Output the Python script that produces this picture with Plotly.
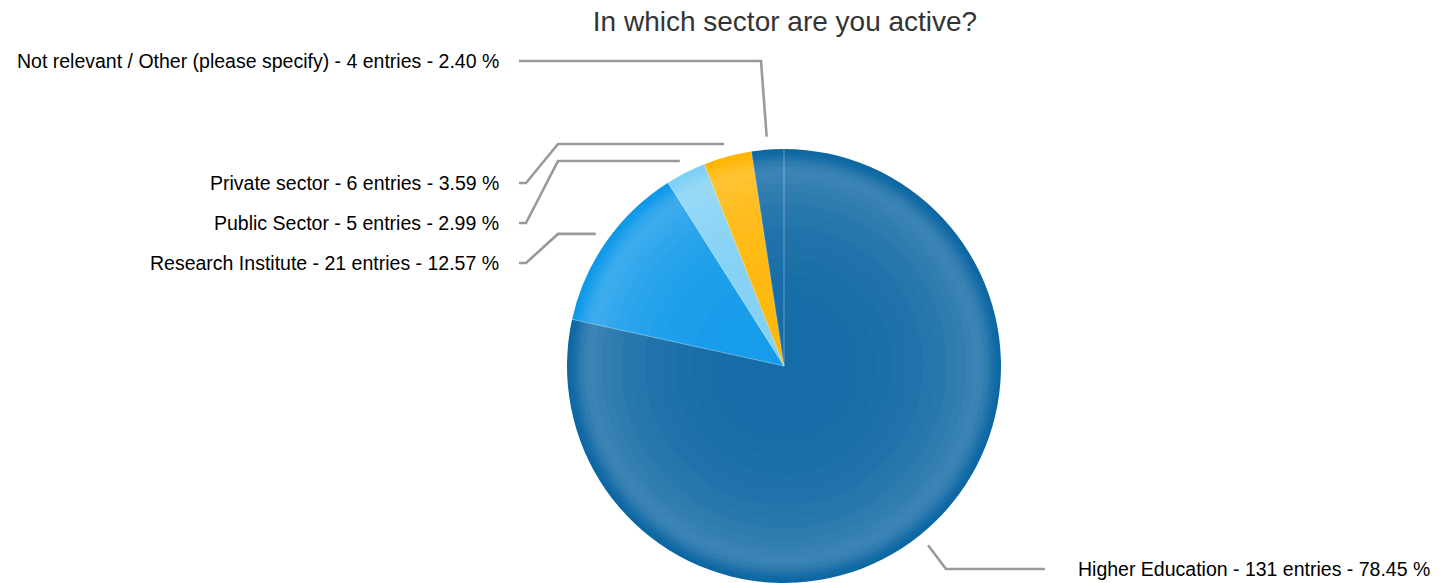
import numpy as np
import plotly.graph_objects as go

# ---- data -------------------------------------------------------------
categories = [
    "Higher Education",
    "Research Institute",
    "Public Sector",
    "Private sector",
    "Not relevant / Other (please specify)",
]
entries = [131, 21, 5, 6, 4]
percents = [78.45, 12.57, 2.99, 3.59, 2.40]

# ---- style ------------------------------------------------------------
W, H = 1441, 583
CX, CY, R = 784, 366, 217          # pie centre / radius in pixels
edge_colors = ["#0a65a2", "#0b97e9", "#7dcff5", "#ffb400", "#0a65a2"]
FONT = "Liberation Sans, Arial, Helvetica, sans-serif"
LINE_COL = "#9a9a9a"

# radial shading: amount of white mixed in as a function of radius fraction
shade_r = [0.0, 0.40, 0.60, 0.75, 0.85, 0.90, 0.94, 0.97, 1.00]
shade_t = [0.04, 0.06, 0.09, 0.13, 0.18, 0.21, 0.14, 0.05, 0.00]
ring_edges = [1.0, 0.985, 0.97, 0.955, 0.94, 0.92, 0.90, 0.87, 0.84, 0.80,
              0.75, 0.70, 0.64, 0.57, 0.50, 0.42, 0.33, 0.22]

# label placement (pixels) and connector elbows
label_y = [569, 263, 223, 183, 61]
label_side = ["right", "left", "left", "left", "left"]
connector_via = [
    [(946, 569), (1045, 569)],
    [(558, None), (526, 263), (519, 263)],
    [(558, None), (526, 223), (519, 223)],
    [(558, None), (526, 183), (519, 183)],
    [(761, 61), (519, 61)],
]
LEFT_TEXT_X, RIGHT_TEXT_X = 501, 1076


def px(x):
    return x / W


def py(y):
    return 1 - y / H


def mix_white(hex_col, t):
    h = hex_col.lstrip("#")
    rgb = [int(h[i:i + 2], 16) for i in (0, 2, 4)]
    out = [round(c + (255 - c) * t) for c in rgb]
    return "rgb({},{},{})".format(*out)


fig = go.Figure()

# concentric discs, outermost first, give the pie its radial shading
for k, r_out in enumerate(ring_edges):
    r_in = ring_edges[k + 1] if k + 1 < len(ring_edges) else 0.0
    t = float(np.interp((r_out + r_in) / 2, shade_r, shade_t))
    fig.add_trace(go.Pie(
        labels=categories,
        values=percents,
        sort=False,
        direction="clockwise",
        rotation=0,
        textinfo="none",
        hoverinfo="label+percent" if k == 0 else "skip",
        marker=dict(colors=[mix_white(c, t) for c in edge_colors],
                    line=dict(width=0)),
        domain=dict(x=[px(CX - R * r_out), px(CX + R * r_out)],
                    y=[max(0, py(CY + R * r_out)), py(CY - R * r_out)]),
        showlegend=False,
    ))

shapes = []
annotations = []

# faint separators between slices
bounds = np.concatenate([[0.0], np.cumsum(percents)[:-1]]) / 100.0
for b in bounds:
    th = 2 * np.pi * b
    shapes.append(dict(
        type="line", xref="paper", yref="paper",
        x0=px(CX), y0=py(CY),
        x1=px(CX + R * np.sin(th)), y1=py(CY - R * np.cos(th)),
        line=dict(color="rgba(255,255,255,0.35)", width=1), layer="above"))

# connectors and labels
mids = (np.cumsum(percents) - np.array(percents) / 2) / 100.0
for i, cat in enumerate(categories):
    th = 2 * np.pi * mids[i]
    ax = CX + 1.06 * R * np.sin(th)
    ay = CY - 1.06 * R * np.cos(th)
    pts = [(ax, ay)] + [(x, ay if y is None else y) for x, y in connector_via[i]]
    path = "M " + " L ".join(f"{px(x):.5f},{py(y):.5f}" for x, y in pts)
    shapes.append(dict(type="path", xref="paper", yref="paper", path=path,
                       line=dict(color=LINE_COL, width=2.6), layer="above"))
    text = f"{cat} - {entries[i]} entries - {percents[i]:.2f} %"
    right = label_side[i] == "right"
    annotations.append(dict(
        text=text, xref="paper", yref="paper",
        x=px(RIGHT_TEXT_X if right else LEFT_TEXT_X), y=py(label_y[i]),
        xanchor="left" if right else "right", yanchor="middle",
        showarrow=False, font=dict(family=FONT, size=19.5, color="#000000")))

fig.update_layout(
    width=W, height=H,
    margin=dict(l=0, r=0, t=0, b=0),
    paper_bgcolor="white", plot_bgcolor="white",
    title=dict(text="In which sector are you active?",
               x=785 / W, xanchor="center", y=1 - 21.5 / H, yanchor="middle",
               font=dict(family=FONT, size=28, color="#333333")),
    shapes=shapes,
    annotations=annotations,
    showlegend=False,
)

fig.write_html("out.html")
